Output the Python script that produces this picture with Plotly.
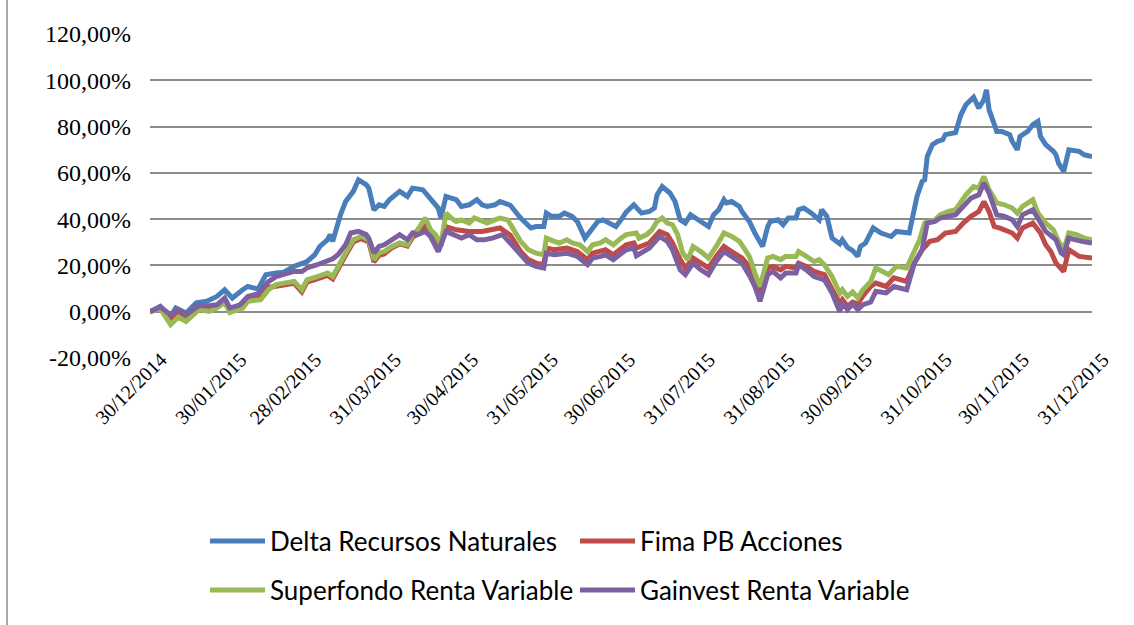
import plotly.graph_objects as go

# ---------------- data ----------------
series_names = ["Delta Recursos Naturales", "Fima PB Acciones",
                "Superfondo Renta Variable", "Gainvest Renta Variable"]
series_colors = ["#4A7EBB", "#BE4B48", "#98B954", "#7D60A0"]

delta_dates = ["2014-12-30","2015-01-03","2015-01-07","2015-01-09","2015-01-13","2015-01-17","2015-01-21","2015-01-25","2015-01-28","2015-01-31",
"2015-02-04","2015-02-06","2015-02-10","2015-02-13","2015-02-17","2015-02-20","2015-02-24","2015-02-27","2015-03-01","2015-03-04",
"2015-03-06","2015-03-09","2015-03-10","2015-03-11","2015-03-13","2015-03-14","2015-03-16","2015-03-19","2015-03-21","2015-03-24",
"2015-03-25","2015-03-27","2015-03-29","2015-03-31","2015-04-02","2015-04-06","2015-04-09","2015-04-11","2015-04-15","2015-04-17",
"2015-04-19","2015-04-21","2015-04-22","2015-04-24","2015-04-26","2015-04-28","2015-04-30","2015-05-03","2015-05-06","2015-05-08",
"2015-05-10","2015-05-13","2015-05-15","2015-05-17","2015-05-19","2015-05-23","2015-05-27","2015-05-29","2015-06-01","2015-06-02",
"2015-06-04","2015-06-07","2015-06-09","2015-06-12","2015-06-14","2015-06-17","2015-06-19","2015-06-22","2015-06-24","2015-06-27",
"2015-06-29","2015-07-01","2015-07-03","2015-07-06","2015-07-09","2015-07-12","2015-07-14","2015-07-15","2015-07-17","2015-07-20",
"2015-07-22","2015-07-24","2015-07-26","2015-07-28","2015-07-30","2015-08-02","2015-08-04","2015-08-06","2015-08-08","2015-08-10",
"2015-08-11","2015-08-13","2015-08-16","2015-08-17","2015-08-20","2015-08-22","2015-08-25","2015-08-27","2015-08-28","2015-08-31",
"2015-09-02","2015-09-04","2015-09-07","2015-09-08","2015-09-10","2015-09-13","2015-09-16","2015-09-17","2015-09-19","2015-09-21",
"2015-09-24","2015-09-25","2015-09-27","2015-09-29","2015-10-01","2015-10-02","2015-10-04","2015-10-07","2015-10-10","2015-10-14",
"2015-10-16","2015-10-21","2015-10-22","2015-10-24","2015-10-26","2015-10-27","2015-10-28","2015-10-30","2015-11-01","2015-11-03",
"2015-11-04","2015-11-06","2015-11-08","2015-11-10","2015-11-12","2015-11-15","2015-11-17","2015-11-19","2015-11-20","2015-11-21",
"2015-11-23","2015-11-24","2015-11-26","2015-11-29","2015-11-30","2015-12-02","2015-12-03","2015-12-06","2015-12-08","2015-12-10",
"2015-12-11","2015-12-13","2015-12-16","2015-12-17","2015-12-18","2015-12-20","2015-12-22","2015-12-26","2015-12-28","2015-12-31"]
delta_values = [0.0,2.3,-2.0,1.6,-0.6,3.8,4.5,6.6,9.5,5.9,
9.5,10.9,9.8,16.0,16.7,17.1,19.6,21.0,21.7,24.6,
28.2,31.1,33.3,30.4,38.3,41.9,47.6,52.0,57.0,54.9,
53.4,44.0,46.2,45.5,48.4,52.0,49.8,53.4,52.7,49.8,
47.6,44.8,40.5,49.8,49.1,48.4,45.5,46.2,48.4,46.2,
45.5,46.2,47.6,47.0,46.0,40.5,36.2,36.8,36.8,42.6,
41.2,41.2,42.6,41.2,39.0,31.8,34.7,39.0,39.7,38.3,
36.8,39.7,43.0,46.2,42.6,43.3,44.8,50.5,54.1,51.3,
47.6,39.7,38.3,41.9,40.5,38.3,36.8,41.9,44.1,48.4,
47.0,47.6,45.5,43.3,38.7,34.0,28.2,36.8,39.0,39.7,
37.6,40.5,40.5,44.1,44.8,42.6,39.7,44.1,41.2,31.8,
29.3,31.1,27.8,26.4,23.9,28.2,29.7,36.2,34.0,32.5,
34.7,34.0,39.7,49.8,56.3,57.0,67.1,72.2,73.6,74.3,
76.5,76.9,77.4,85.0,89.4,92.7,88.0,91.6,95.9,87.3,
81.5,77.9,77.9,76.5,73.6,70.0,75.7,77.9,80.8,82.2,
75.7,72.2,69.3,67.8,64.2,60.6,70.0,69.3,67.8,67.1]

fima_dates = ["2014-12-30","2015-01-03","2015-01-07","2015-01-10","2015-01-13","2015-01-18","2015-01-22","2015-01-25","2015-01-28","2015-01-30",
"2015-02-04","2015-02-06","2015-02-11","2015-02-14","2015-02-17","2015-02-20","2015-02-24","2015-02-27","2015-03-01","2015-03-05",
"2015-03-09","2015-03-11","2015-03-13","2015-03-16","2015-03-19","2015-03-22","2015-03-25","2015-03-27","2015-03-29","2015-03-31",
"2015-04-03","2015-04-06","2015-04-09","2015-04-11","2015-04-13","2015-04-16","2015-04-18","2015-04-20","2015-04-22","2015-04-24",
"2015-04-28","2015-05-03","2015-05-08","2015-05-13","2015-05-15","2015-05-19","2015-05-23","2015-05-26","2015-05-29","2015-06-01",
"2015-06-02","2015-06-05","2015-06-10","2015-06-14","2015-06-18","2015-06-20","2015-06-23","2015-06-25","2015-06-28","2015-07-01",
"2015-07-03","2015-07-06","2015-07-07","2015-07-12","2015-07-14","2015-07-16","2015-07-19","2015-07-21","2015-07-24","2015-07-26",
"2015-07-29","2015-08-01","2015-08-04","2015-08-07","2015-08-10","2015-08-13","2015-08-17","2015-08-20","2015-08-22","2015-08-24",
"2015-08-27","2015-08-29","2015-09-01","2015-09-03","2015-09-07","2015-09-08","2015-09-11","2015-09-14","2015-09-18","2015-09-21",
"2015-09-24","2015-09-25","2015-09-27","2015-09-29","2015-10-01","2015-10-03","2015-10-06","2015-10-08","2015-10-12","2015-10-15",
"2015-10-20","2015-10-23","2015-10-26","2015-10-29","2015-11-01","2015-11-04","2015-11-08","2015-11-11","2015-11-14","2015-11-17",
"2015-11-19","2015-11-21","2015-11-23","2015-11-25","2015-11-27","2015-11-30","2015-12-02","2015-12-04","2015-12-08","2015-12-11",
"2015-12-13","2015-12-15","2015-12-17","2015-12-20","2015-12-22","2015-12-26","2015-12-31"]
fima_values = [0.0,1.5,-3.5,-0.8,-2.8,1.5,1.2,2.2,4.8,0.6,
2.2,5.3,6.0,10.5,11.0,11.6,12.3,8.6,12.8,14.2,
15.7,14.2,18.6,24.4,30.1,31.5,30.1,21.5,24.4,25.0,
27.6,29.3,28.4,32.2,33.5,36.8,34.0,31.8,28.5,36.8,
35.4,34.7,34.7,35.4,36.2,33.0,26.0,22.5,21.0,20.3,
27.5,26.8,27.5,26.0,22.5,25.3,26.0,26.8,24.6,27.5,
28.9,29.7,27.5,29.7,32.5,34.7,33.3,29.7,22.5,18.9,
23.2,21.0,18.9,23.9,28.2,26.0,23.2,19.2,13.8,7.3,
18.9,19.6,18.1,19.6,18.9,21.0,19.6,17.4,16.0,9.5,
3.5,5.2,2.3,4.2,3.4,6.8,10.9,12.4,10.9,14.6,
13.1,21.0,26.8,30.4,31.1,34.0,34.7,38.3,41.2,43.3,
47.6,43.3,36.8,36.2,35.4,34.0,31.8,36.2,38.3,34.0,
28.9,26.0,21.0,17.4,26.8,23.9,23.2]

superfondo_dates = ["2014-12-30","2015-01-03","2015-01-07","2015-01-10","2015-01-13","2015-01-18","2015-01-22","2015-01-25","2015-01-28","2015-01-30",
"2015-02-04","2015-02-06","2015-02-11","2015-02-14","2015-02-17","2015-02-20","2015-02-24","2015-02-27","2015-03-01","2015-03-05",
"2015-03-09","2015-03-11","2015-03-13","2015-03-16","2015-03-19","2015-03-22","2015-03-25","2015-03-27","2015-03-29","2015-03-31",
"2015-04-03","2015-04-06","2015-04-09","2015-04-11","2015-04-13","2015-04-16","2015-04-18","2015-04-20","2015-04-22","2015-04-24",
"2015-04-26","2015-04-28","2015-04-30","2015-05-03","2015-05-05","2015-05-08","2015-05-10","2015-05-13","2015-05-15","2015-05-18",
"2015-05-19","2015-05-23","2015-05-26","2015-05-29","2015-06-01","2015-06-02","2015-06-05","2015-06-07","2015-06-10","2015-06-12",
"2015-06-15","2015-06-18","2015-06-20","2015-06-23","2015-06-25","2015-06-28","2015-07-01","2015-07-03","2015-07-07","2015-07-08",
"2015-07-11","2015-07-13","2015-07-15","2015-07-17","2015-07-19","2015-07-21","2015-07-23","2015-07-25","2015-07-27","2015-07-29",
"2015-08-01","2015-08-04","2015-08-07","2015-08-08","2015-08-10","2015-08-13","2015-08-16","2015-08-18","2015-08-20","2015-08-22",
"2015-08-24","2015-08-27","2015-08-29","2015-09-01","2015-09-03","2015-09-07","2015-09-08","2015-09-11","2015-09-14","2015-09-16",
"2015-09-18","2015-09-21","2015-09-24","2015-09-25","2015-09-27","2015-09-29","2015-10-01","2015-10-03","2015-10-06","2015-10-08",
"2015-10-13","2015-10-16","2015-10-20","2015-10-22","2015-10-25","2015-10-27","2015-10-31","2015-11-02","2015-11-05","2015-11-08",
"2015-11-10","2015-11-12","2015-11-15","2015-11-17","2015-11-19","2015-11-21","2015-11-24","2015-11-27","2015-11-30","2015-12-02",
"2015-12-04","2015-12-08","2015-12-10","2015-12-13","2015-12-16","2015-12-18","2015-12-20","2015-12-22","2015-12-25","2015-12-28",
"2015-12-31"]
superfondo_values = [0.0,1.3,-5.6,-2.3,-4.2,0.9,0.1,1.6,4.0,-0.3,
1.6,4.5,5.2,9.5,11.7,12.4,13.1,9.5,13.8,15.2,
16.7,15.2,19.6,25.4,31.1,32.5,31.1,22.5,25.4,26.0,
28.2,29.7,28.9,33.3,35.4,40.5,35.4,33.3,28.9,42.6,
40.5,39.0,39.7,38.3,40.5,39.0,38.3,39.7,40.5,39.7,
38.0,30.4,26.8,25.3,24.6,31.8,30.4,29.7,31.1,29.7,
28.9,26.0,28.9,29.7,31.1,28.9,31.8,33.3,34.0,31.8,
33.3,35.4,39.0,40.5,38.3,37.6,33.3,25.3,22.5,28.2,
26.0,23.2,28.2,30.4,34.0,32.5,30.4,27.2,23.5,16.7,
10.9,23.2,23.9,22.5,23.9,23.9,26.0,23.9,21.7,22.5,
20.3,15.2,8.0,9.5,6.6,8.5,6.0,9.5,13.0,18.9,
16.0,19.6,18.9,23.9,31.1,38.3,39.7,41.9,43.3,44.1,
47.6,50.5,54.1,53.4,58.4,52.7,47.0,46.2,44.8,42.6,
45.5,48.4,42.6,38.3,35.4,30.4,26.8,34.0,33.3,31.8,
31.1]

gainvest_dates = ["2014-12-30","2015-01-03","2015-01-07","2015-01-10","2015-01-13","2015-01-18","2015-01-22","2015-01-25","2015-01-28","2015-01-30",
"2015-02-03","2015-02-06","2015-02-10","2015-02-14","2015-02-17","2015-02-20","2015-02-24","2015-02-27","2015-03-01","2015-03-05",
"2015-03-09","2015-03-11","2015-03-13","2015-03-16","2015-03-18","2015-03-21","2015-03-24","2015-03-25","2015-03-27","2015-03-29",
"2015-03-31","2015-04-03","2015-04-06","2015-04-09","2015-04-11","2015-04-13","2015-04-16","2015-04-18","2015-04-21","2015-04-24",
"2015-04-27","2015-04-30","2015-05-03","2015-05-06","2015-05-09","2015-05-12","2015-05-16","2015-05-19","2015-05-23","2015-05-26",
"2015-05-29","2015-06-01","2015-06-02","2015-06-05","2015-06-10","2015-06-14","2015-06-18","2015-06-20","2015-06-23","2015-06-25",
"2015-06-28","2015-07-01","2015-07-03","2015-07-06","2015-07-07","2015-07-12","2015-07-14","2015-07-16","2015-07-19","2015-07-21",
"2015-07-24","2015-07-26","2015-07-29","2015-08-01","2015-08-04","2015-08-07","2015-08-10","2015-08-13","2015-08-17","2015-08-20",
"2015-08-22","2015-08-24","2015-08-27","2015-08-29","2015-09-01","2015-09-03","2015-09-07","2015-09-08","2015-09-11","2015-09-14",
"2015-09-18","2015-09-21","2015-09-24","2015-09-25","2015-09-27","2015-09-29","2015-10-01","2015-10-03","2015-10-06","2015-10-08",
"2015-10-12","2015-10-15","2015-10-20","2015-10-23","2015-10-26","2015-10-28","2015-10-31","2015-11-02","2015-11-05","2015-11-08",
"2015-11-11","2015-11-14","2015-11-17","2015-11-19","2015-11-21","2015-11-24","2015-11-27","2015-11-30","2015-12-02","2015-12-04",
"2015-12-08","2015-12-11","2015-12-13","2015-12-17","2015-12-19","2015-12-20","2015-12-22","2015-12-27","2015-12-31"]
gainvest_values = [0.0,2.0,-1.3,0.9,-1.3,2.6,2.6,3.0,5.9,1.6,
3.0,6.6,7.8,13.0,15.2,16.0,17.4,17.4,18.9,20.3,
21.7,22.9,24.6,28.9,34.0,34.7,33.3,31.8,25.4,28.2,
28.9,31.1,33.3,31.1,34.0,33.3,34.7,32.5,26.0,34.7,
33.3,31.8,33.3,31.1,31.1,31.8,33.3,29.7,24.6,21.0,
19.6,18.9,25.3,24.6,25.3,23.9,20.3,23.2,23.9,24.6,
22.5,25.3,26.8,27.5,24.2,27.5,30.4,32.5,30.4,26.8,
18.1,16.0,21.0,18.1,16.0,21.7,26.0,23.9,21.0,15.5,
10.9,4.5,16.0,17.4,14.6,16.7,16.7,20.3,18.1,15.2,
13.8,8.1,0.1,3.8,0.9,3.4,0.9,3.0,4.2,8.8,
8.1,10.9,9.5,21.0,26.8,38.3,39.0,40.5,41.2,41.9,
45.5,49.1,50.5,55.6,51.3,41.9,41.2,39.7,36.8,41.9,
44.1,39.0,34.7,31.1,25.4,24.6,31.8,30.4,29.7]

y_tick_values = [-20, 0, 20, 40, 60, 80, 100, 120]
y_tick_labels = ["-20,00%", "0,00%", "20,00%", "40,00%", "60,00%", "80,00%", "100,00%", "120,00%"]
x_tick_dates = ["2014-12-30", "2015-01-30", "2015-02-28", "2015-03-31", "2015-04-30", "2015-05-31",
                "2015-06-30", "2015-07-31", "2015-08-31", "2015-09-30", "2015-10-31", "2015-11-30", "2015-12-31"]
x_tick_labels = ["30/12/2014", "30/01/2015", "28/02/2015", "31/03/2015", "30/04/2015", "31/05/2015",
                 "30/06/2015", "31/07/2015", "31/08/2015", "30/09/2015", "31/10/2015", "30/11/2015", "31/12/2015"]

all_dates = [delta_dates, fima_dates, superfondo_dates, gainvest_dates]
all_values = [delta_values, fima_values, superfondo_values, gainvest_values]

# ---------------- figure ----------------
W, H = 1134, 625
ML, MT = 150, 34
PW, PH = 942, 324
MR, MB = W - ML - PW, H - MT - PH

fig = go.Figure()
for name, color, xs, ys in zip(series_names, series_colors, all_dates, all_values):
    fig.add_trace(go.Scatter(x=xs, y=ys, name=name, mode="lines",
                             line=dict(color=color, width=5),
                             showlegend=False))

def px_x(px):
    # target page pixel -> paper coordinate
    return (px - ML) / PW

def px_y(py):
    return (MT + PH - py) / PH

# chart-area border (left edge visible in the reference)
fig.add_shape(type="line", xref="paper", yref="paper",
              x0=px_x(7), x1=px_x(7), y0=px_y(630), y1=px_y(-5),
              line=dict(color="#8a8a8a", width=1.5), layer="below")

# custom legend (two rows x two columns, as in the reference)
legend_rows = [541, 590]
legend_cols = [210, 580]
for i, (name, color) in enumerate(zip(series_names, series_colors)):
    row, col = divmod(i, 2)
    y = px_y(legend_rows[row])
    x0 = legend_cols[col]
    fig.add_shape(type="line", xref="paper", yref="paper",
                  x0=px_x(x0), x1=px_x(x0 + 55), y0=y, y1=y,
                  line=dict(color=color, width=5))
    fig.add_annotation(xref="paper", yref="paper", x=px_x(x0 + 58), y=y,
                       text=name, showarrow=False, xanchor="left", yanchor="middle",
                       font=dict(family="Lato", size=26, color="#000000"))

fig.update_layout(
    width=W, height=H,
    margin=dict(l=ML, r=MR, t=MT, b=MB, pad=0),
    paper_bgcolor="white", plot_bgcolor="white",
    showlegend=False,
)
fig.update_xaxes(type="date", range=["2014-12-30", "2015-12-31"],
                 tickmode="array", tickvals=x_tick_dates, ticktext=x_tick_labels,
                 tickangle=-45, showgrid=False, zeroline=False, showline=False,
                 ticklabelstandoff=-15, ticklabelshift=11,
                 tickfont=dict(family="Liberation Serif", size=20, color="#000000"))
fig.update_yaxes(range=[-20, 120], tickmode="array", tickvals=y_tick_values, ticktext=y_tick_labels,
                 showgrid=True, gridcolor="#8c8c8c", gridwidth=1.5, zeroline=False, showline=False,
                 ticklabelstandoff=18,
                 tickfont=dict(family="Liberation Serif", size=24, color="#000000"))

fig.write_html("out.html",
               config={"displayModeBar": False},
               post_script="document.body.style.margin='0';document.body.style.overflow='hidden';")
